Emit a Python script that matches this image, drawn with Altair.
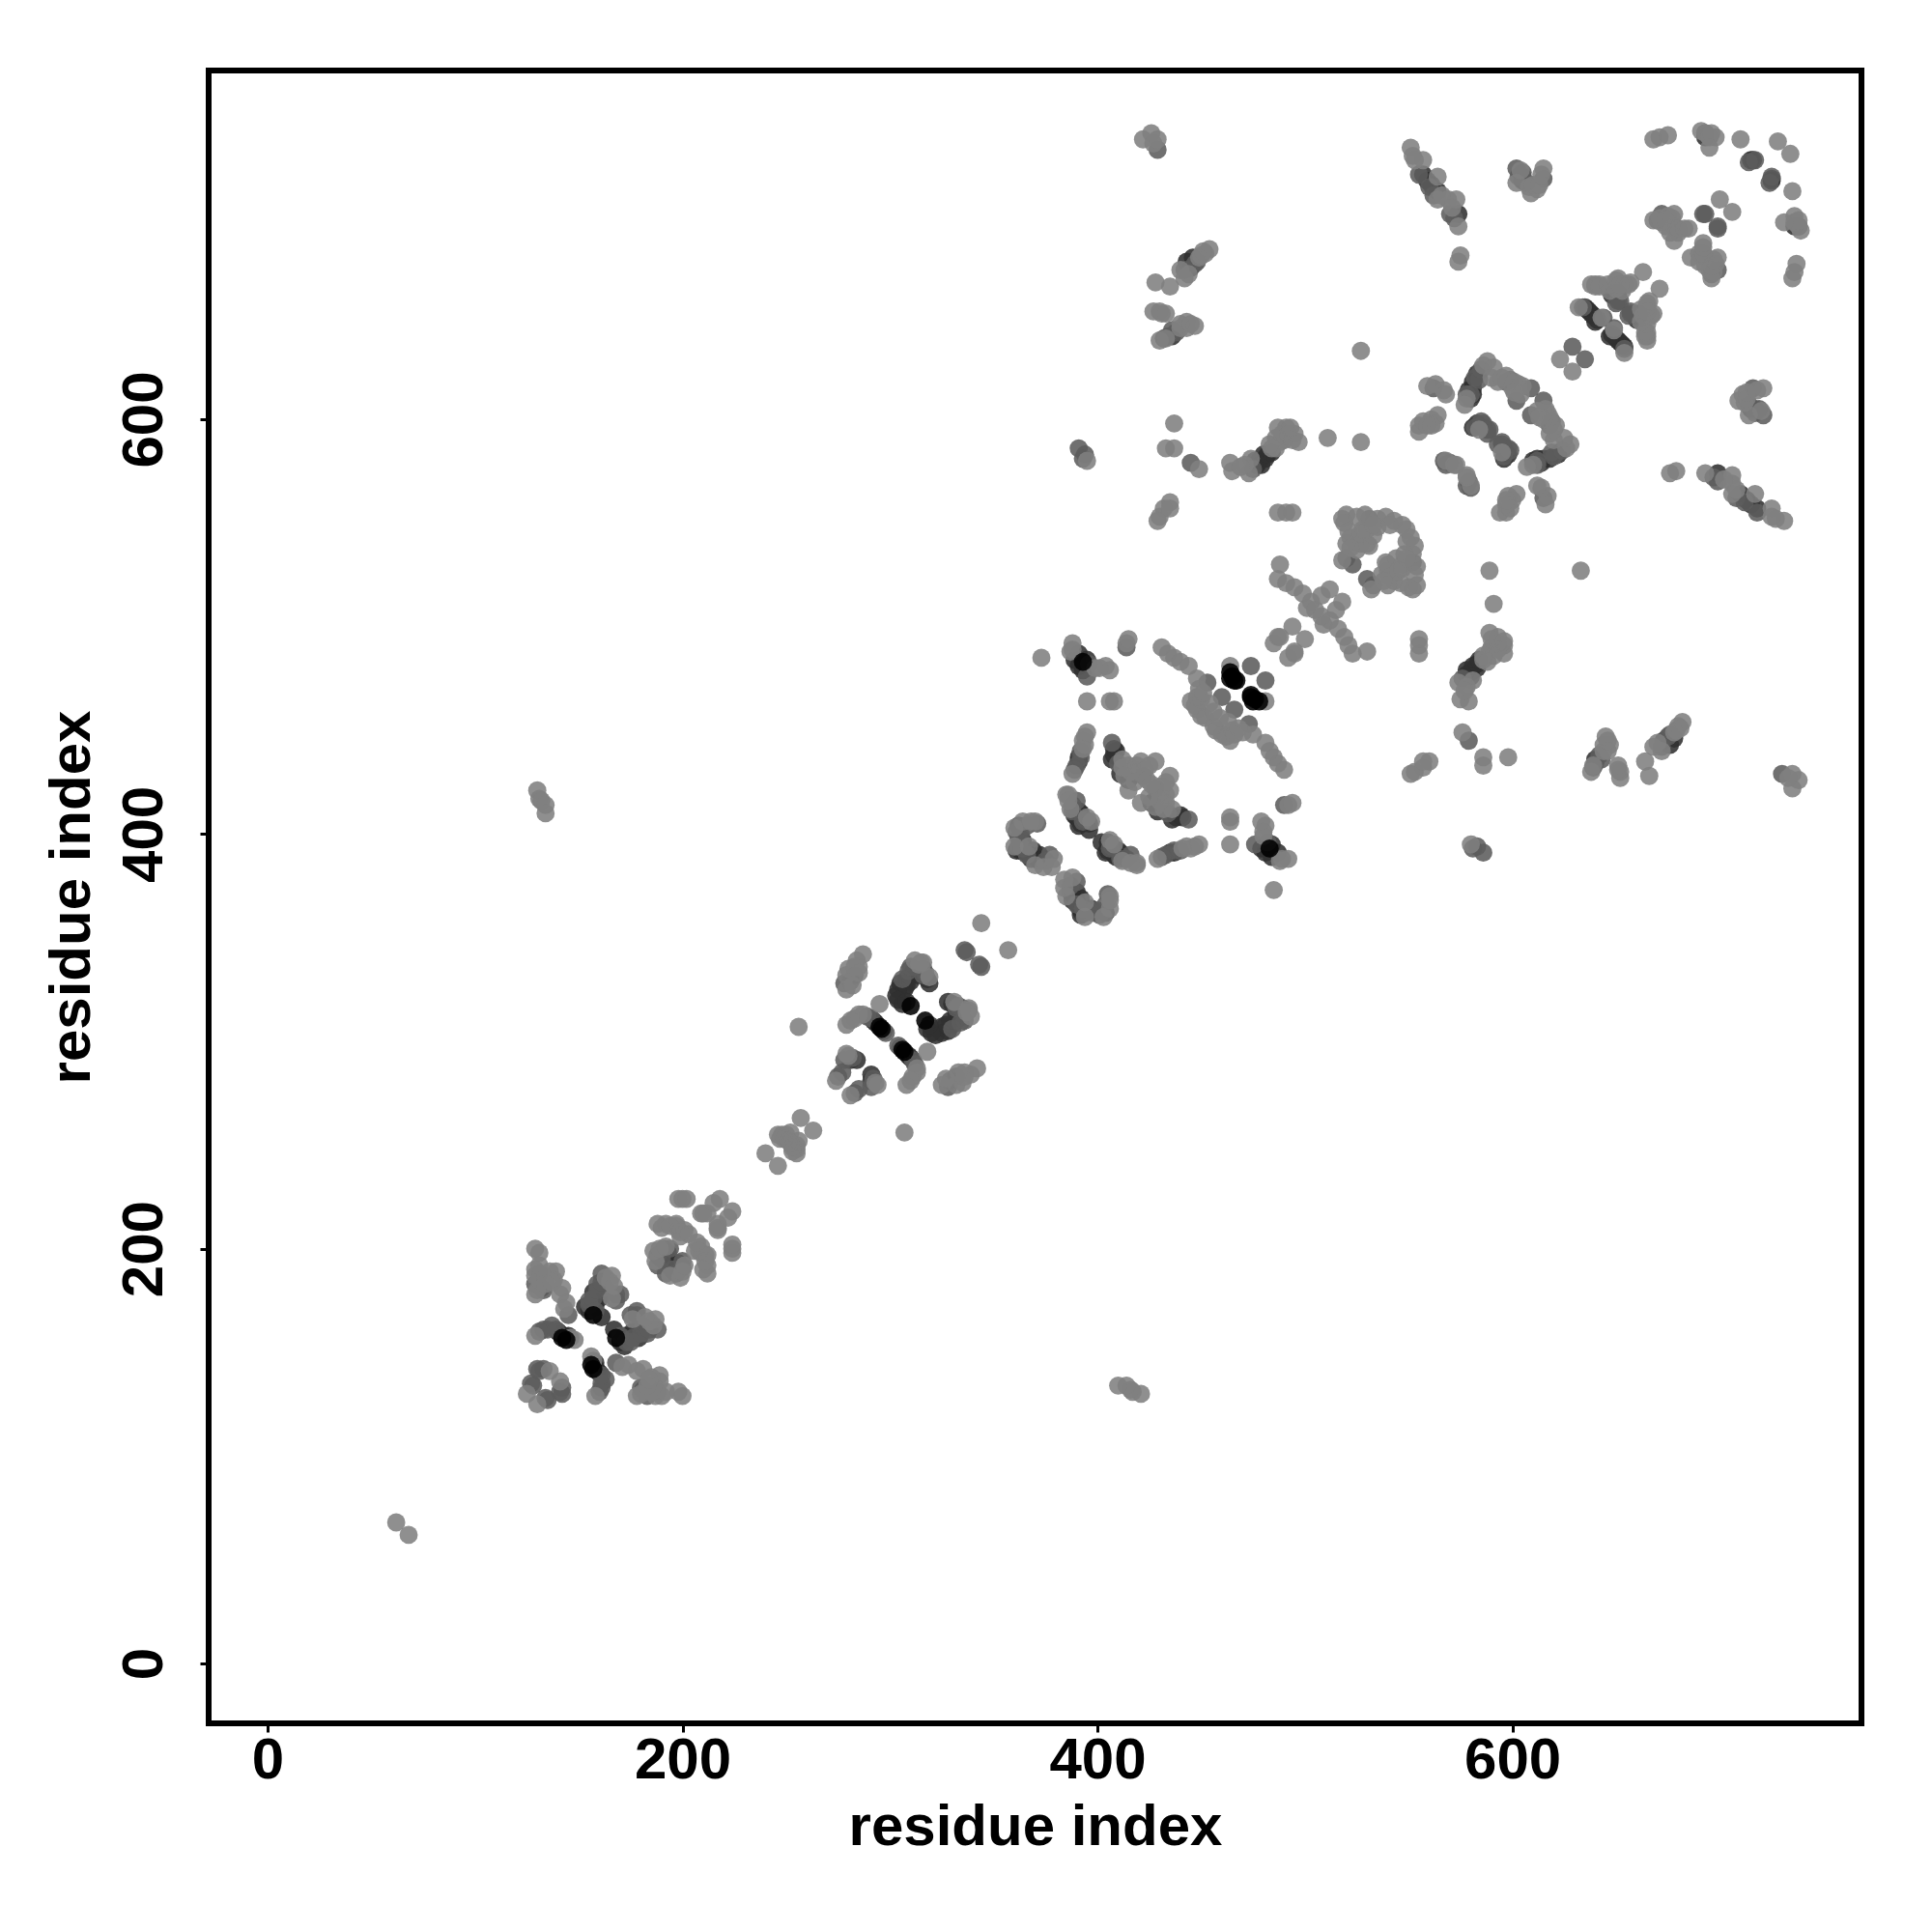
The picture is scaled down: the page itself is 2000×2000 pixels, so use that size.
import altair as alt
import pandas as pd

# Each contact: (residue i, residue j, strength class). The map is symmetric, so j > i is listed.
isolated = [(62,68,1),(130,421,1),(131,417,1),(132,416,1),(134,414,1),(134,410,1),(256,307,1),(344,357,1),
            (373,485,1),(511,591,1),(527,589,1),(527,633,1)]
block_130 = [(128,134,2),(125,130,1),(127,135,2),(130,142,2),(133,142,2),(136,141,1),(131,141,2),
             (132,181,3),(133,180,2),(129,200,1),(131,198,1),(129,190,1),(129,187,1),(129,183,2),(129,178,1),
             (130,180,1),(136,189,1),(139,189,1),(142,181,1),(144,174,1),(145,168,2),
             (153,172,3),(155,175,2),(157,179,3),(159,183,2),(160,176,3),(158,172,3),(155,170,3),(161,188,2),
             (163,181,2),(166,187,1),(166,176,1),(168,178,2),(170,178,2),(157,168,4),(161,167,3),
             (129,158,1),(133,161,2),(135,161,2),(137,163,2),(140,160,3),(142,157,4),(144,156,4),(145,158,3),(148,156,1),
             (155,173,2),(157,176,2),(159,180,2),(161,184,2),(163,186,1),(165,184,1),(167,182,1),(168,175,2),(158,170,2),
             (131,160,2),(139,161,2),(141,159,3),(143,158,3),(146,157,1),
             (131,185,1),(131,192,1),(134,186,1),(131,188,2),(138,185,1),(141,178,1),(143,171,1),(134,183,1),(137,184,1)]
block_190 = [(186,199,1),(187,194,1),(188,197,2),(189,200,1),(192,196,3),(191,200,2),(199,206,1),(188,212,1),
             (192,212,1),(197,211,1),(198,209,1),(201,209,1),(203,207,1),(197,212,1),
             (198,224,1),(200,224,1),(202,224,1),(209,217,1),(210,217,1),(212,217,1),(215,222,1),(218,224,1),
             (190,210,1),(194,211,1),(199,208,1),(188,192,2),(190,195,2),(189,196,3),(193,198,3),(194,200,2),(192,201,1)]
block_245 = [(240,246,1),(257,263,1),(246,255,1),(248,255,1),(250,255,1),(252,256,1),(249,253,1),(247,253,1),(251,252,1)]
block_280 = [(279,325,1),(278,328,2),(279,332,1),(280,335,1),(283,332,2),(285,336,1),(284,339,1),(287,342,1),
             (295,318,1),(337,343,2),(336,344,2),
             (310,317,4),(306,318,3),(303,322,3),(305,328,3),(307,325,3),(309,334,2),(312,339,1),(316,338,1),
             (319,328,3),(319,331,1),(316,335,3),(311,333,3),(308,327,3),(315,338,1),
             (279,308,1),(283,311,1),(287,313,1),(291,311,2),(293,309,3),(295,307,4),(298,304,2),
             (274,281,1),(277,285,2),(280,293,1),(282,292,2),(284,291,3),
             (304,325,3),(306,330,2),(308,330,3),(310,336,2),(314,337,1),(317,333,2),(318,330,3),(304,320,3),(308,319,3),
             (316,332,2),(313,332,3),(310,329,3),(289,312,2),(285,313,1),(281,310,1),(296,306,4),(297,305,2),(292,310,3),
             (281,329,2),(283,336,1),(285,333,1),(282,327,1),(278,291,2),(281,291,3),(275,283,2),(279,294,1)]
block_360 = [(391,487,3),(391,481,3),(395,484,3),(393,483,4),(388,492,1),(387,488,1),(395,476,2),(399,480,1),
             (404,481,1),(406,479,1),(414,492,1),(414,490,2),(415,494,1),(395,464,1),(406,464,1),(408,464,1),
             (391,437,3),(390,433,2),(388,429,1),(394,447,1),(394,443,1),(393,445,1),(392,440,2),
             (415,426,3),(411,429,3),(408,438,3),(407,444,2),(409,440,3),(407,436,3),(412,436,1),(415,433,1),
             (421,435,1),(428,435,1),(418,431,1),(422,428,2),(415,421,1),(420,430,1),
             (390,408,3),(392,410,3),(391,411,3),(396,402,3),(393,406,2),(385,419,1),(390,416,2),(387,412,1),
             (388,414,2),(395,408,1),(386,419,1),(397,406,1),
             (362,404,3),(361,392,3),(371,388,3),(372,390,3),(369,392,3),(363,400,2),(364,406,1),(370,406,1),
             (371,405,2),(360,403,1),(360,394,1),(367,394,1),(374,384,1),(377,390,2),(378,384,1),(379,388,1),
             (389,484,3),(393,479,3),(388,489,1),(396,482,2),(401,480,1),(392,437,2),(391,435,3),(393,441,1),(389,431,2),(395,449,1),
             (408,441,3),(410,434,2),(412,432,1),(413,428,1),(416,430,1),(419,433,1),(423,431,1),(425,433,1),(418,425,1),(424,426,1),
             (389,409,3),(391,404,3),(396,405,3),(392,405,3),(394,407,2),(386,416,1),(388,411,2),
             (364,397,3),(363,392,3),(365,391,3),(367,390,3),(368,388,3),(372,387,3),(362,398,2),(366,390,2),(375,387,2),
             (361,401,2),(366,404,2),(368,406,1),(364,393,2),(362,394,2),(370,385,1)]
block_440 = [(431,490,1),(434,487,1),(437,485,1),(440,483,1),(444,481,1),(448,475,1),(453,473,2),(445,464,1),
             (448,460,1),(450,457,1),(447,462,1),(450,465,1),(454,463,1),(452,456,1),(456,459,1),(460,466,2),
             (449,470,1),(448,466,1),(451,468,1),(464,481,1),(464,478,4),(464,475,4),(466,474,4),(467,474,4),
             (465,476,4),(474,481,2)]
block_490 = [(488,530,1),(487,523,1),(491,521,1),(495,519,1),(499,516,1),(501,509,1),(503,512,1),(505,508,1),
             (508,515,1),(512,518,1),(494,500,1),(487,495,1),(485,492,1),(488,495,1),(487,555,1),(491,555,1),(494,555,1),
             (520,554,1),(518,552,1),(525,553,1),(529,554,1),(531,552,2),(535,552,1),(539,553,1),(543,551,1),
             (522,543,1),(518,532,1),(520,533,2),(523,530,2),(527,540,1),(531,539,1),(525,537,1),(530,540,1),
             (524,541,1),(533,544,1),(519,550,1),(530,547,1),
             (521,546,1),(528,547,1),(535,548,1),(541,549,1),(547,549,1),(520,540,1),(527,545,1),(533,549,1),(522,538,1)]
block_far_a = [(422,735,1),(426,738,1),(429,735,1),(429,730,2),(427,733,1),
               (446,678,3),(445,673,3),(448,676,2),(442,668,1),(440,672,1),(444,670,1),(450,679,1),(452,680,1),(454,682,1),
               (428,666,1),(435,664,1),(427,652,1),(430,652,1),(433,651,1),(431,651,1),
               (436,640,3),(434,640,2),(430,638,1),(433,639,1),(440,644,1),(443,647,1),(443,644,1),(447,645,1),
               (437,598,1),(433,586,1),(437,586,1),(445,579,2),(449,576,1),
               (430,553,1),(432,557,1),(435,560,1),(435,557,1),(429,551,1),
               (391,586,2),(394,583,2),(395,580,1),(393,581,2),
               (442,672,2),(443,676,3),(447,675,2),(449,678,1),(451,681,1),(436,643,2),(438,642,2),(432,639,2),(440,646,1),(445,646,1)]
block_far_b = [(478,580,3),(480,583,3),(477,578,3),(481,581,3),(476,580,3),(479,578,3),(482,583,3),(484,584,3),
               (464,579,1),(465,575,1),(473,574,1),(474,581,1),(471,578,1),(475,576,2),
               (484,586,1),(487,596,1),(491,596,1),(490,590,1),(495,593,1),(497,589,1),(488,589,1),(486,591,1),
               (486,586,1),(483,588,1),(469,577,1),(489,593,1),(492,593,1),(494,590,1),(493,596,1)]
block_far_c = [(551,731,1),(552,727,1),(557,725,1),(557,718,3),(555,718,2),(560,712,2),(564,710,3),(564,717,1),(564,706,1),
               (569,706,1),(573,706,1),(574,699,3),(570,699,2),(574,693,1),(575,679,1),(574,676,1),
               (602,721,2),(605,719,2),(605,715,3),(602,714,1),(608,712,1),(609,709,1),(612,711,1),(615,716,2),(615,721,1),(604,720,1),
               (559,715,3),(561,713,3),(562,708,2),(566,708,1),(571,702,1),(572,697,2),(553,725,1),
               (605,717,2),(607,714,2),(610,713,1),(613,713,1),(614,718,1),(603,717,2)]
block_560 = [(583,622,3),(581,618,3),(579,614,3),(581,615,3),(580,610,3),(581,612,3),(584,619,2),(578,610,1),(580,612,2),
             (559,616,1),(563,617,1),(567,614,1),(562,615,2),(568,612,1),(582,620,2),(585,624,2),(578,612,2),
             (588,628,1),(586,626,1),(591,625,1),(590,620,1),(593,618,1),(597,621,1),(595,620,1),(599,619,2),(603,617,1),(597,618,2),
             (601,618,1),(605,616,1),(600,615,1),(577,607,1),
             (602,609,2),(604,612,1),(609,615,2),(603,615,1),(601,613,1),
             (555,597,1),(555,594,1),(561,600,1),(564,602,1),(563,598,1),(557,599,1),(559,597,1),(561,597,1),
             (584,597,3),(586,596,3),(583,598,3),(581,596,3),(585,599,2),(588,595,2),(582,596,2),(589,595,2),(584,595,1),(586,598,2),(588,593,2),
             (567,580,2),(568,580,1),(572,578,1),(573,578,1),(568,578,2),(570,579,2),(623,629,1),(629,635,2)]
block_630 = [(636,653,3),(637,652,3),(639,650,3),(635,654,3),(638,651,3),(634,654,2),(632,654,1),(641,648,3),(644,649,2),(643,649,1),(640,647,3),
             (638,665,1),(640,665,1),(642,665,1),(640,664,1),(642,664,1),(646,665,1),(647,662,1),
             (650,659,3),(648,660,3),(651,661,3),(650,661,3),(651,657,2),(652,657,2),(650,656,2),(650,663,1),(651,668,1),(650,667,1),
             (657,666,1),(653,662,1),(654,665,1),(656,665,1),(663,671,1),(652,665,1)]
block_670 = [(668,696,1),(670,696,2),(672,699,2),(675,698,1),(678,699,1),(678,693,1),(678,686,1),(674,693,1),(672,695,1),
             (671,697,1),(674,696,1),(677,697,1),(680,690,1),(676,690,1),(680,692,1),(683,692,1),
             (685,692,1),(693,699,2),(692,699,2),(700,706,1),
             (668,735,1),(671,736,1),(675,737,1),(691,739,1),(693,738,3),(693,736,3),(693,738,1),(698,736,1),(695,736,1),(696,738,1),(695,731,1),(710,735,1),
             (728,734,1),(716,725,3),(715,725,3),(714,724,2),(717,725,2)]

blocks = [isolated, block_130, block_190, block_245, block_280, block_360, block_440, block_490,
          block_far_a, block_far_b, block_far_c, block_560, block_630, block_670]

rows = []
for block in blocks:
    for i, j, s in block:
        rows.append({"a": i, "b": j, "s": s})
        rows.append({"a": j, "b": i, "s": s})
df = pd.DataFrame(rows)
draw_rank = {3: 0, 2: 1, 1: 2, 4: 3}
df = df.assign(rank=df["s"].map(draw_rank)).sort_values("rank", kind="stable").drop(columns="rank")

font = "Liberation Sans"
tick_values = [0, 200, 400, 600]

chart = (
    alt.Chart(df)
    .mark_circle(size=355, opacity=0.88)
    .encode(
        x=alt.X("a:Q", scale=alt.Scale(domain=[-28.4, 768.3], nice=False, zero=False),
                axis=alt.Axis(values=tick_values, title="residue index", grid=False, domain=False,
                              format="d", tickSize=9, tickWidth=3, tickColor="black",
                              labelFont=font, labelFontSize=60, labelFontWeight="bold", labelColor="black",
                              labelPadding=0, labelFlush=False, labelOverlap=False,
                              titleFont=font, titleFontSize=60, titleFontWeight="bold", titleColor="black",
                              titlePadding=10)),
        y=alt.Y("b:Q", scale=alt.Scale(domain=[-28.9, 768.2], nice=False, zero=False),
                axis=alt.Axis(values=tick_values, title="residue index", grid=False, domain=False,
                              format="d", tickSize=9, tickWidth=3, tickColor="black",
                              labelAngle=270, labelAlign="center", labelBaseline="bottom",
                              labelFont=font, labelFontSize=60, labelFontWeight="bold", labelColor="black",
                              labelPadding=27, labelFlush=False, labelOverlap=False,
                              titleFont=font, titleFontSize=60, titleFontWeight="bold", titleColor="black",
                              titlePadding=14)),
        color=alt.Color("s:O", scale=alt.Scale(domain=[1, 2, 3, 4],
                                               range=["#7f7f7f", "#5c5c5c", "#303030", "#000000"]), legend=None),
    )
    .properties(width=1711, height=1711, autosize=alt.AutoSizeParams(type="none"),
                padding={"left": 208, "top": 65, "right": 65, "bottom": 200}, background="white")
    .configure_view(stroke="black", strokeWidth=6)
)

chart.save("out.html", embed_options={"renderer": "svg", "actions": False})
